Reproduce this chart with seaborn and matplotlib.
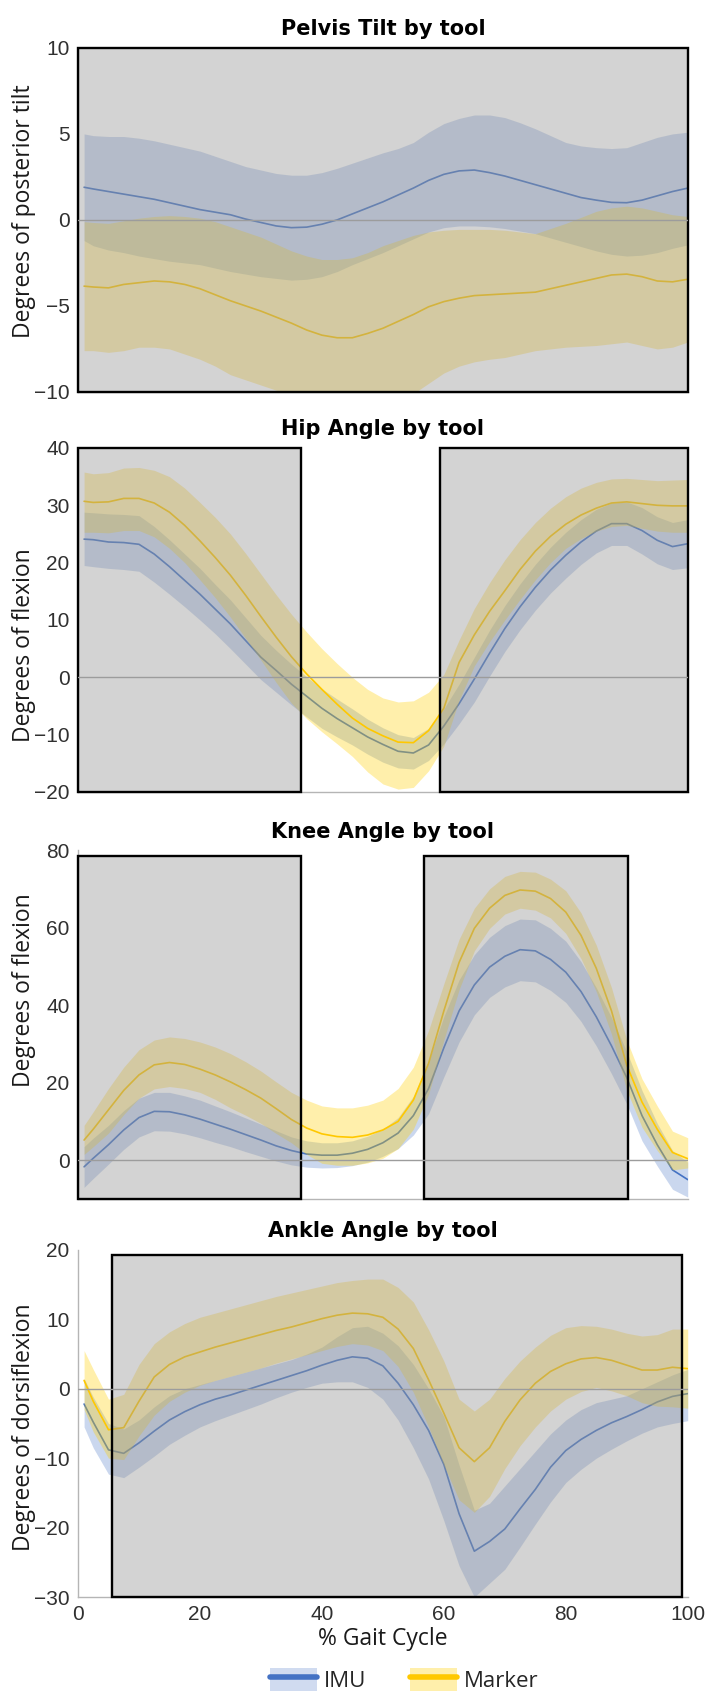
import numpy as np
import pandas as pd
import matplotlib
matplotlib.use("Agg")
import matplotlib.pyplot as plt
import seaborn as sns
from matplotlib.patches import Rectangle, Patch
from matplotlib.lines import Line2D

# ---------------- data (every 2.5 % of the gait cycle) ----------------
x_pct = [1, 2.5, 5, 7.5, 10, 12.5, 15, 17.5, 20, 22.5, 25, 27.5, 30, 32.5, 35, 37.5, 40,
         42.5, 45, 47.5, 50, 52.5, 55, 57.5, 60, 62.5, 65, 67.5, 70, 72.5, 75, 77.5, 80,
         82.5, 85, 87.5, 90, 92.5, 95, 97.5, 100]
x_ticks = [0, 20, 40, 60, 80, 100]
tools = ["IMU", "Marker"]

# Pelvis tilt
pelvis_imu_mean = [1.9, 1.8, 1.65, 1.5, 1.35, 1.2, 1.0, 0.8, 0.6, 0.45, 0.3, 0.05, -0.15, -0.35, -0.45, -0.42,
                   -0.25, 0.0, 0.35, 0.7, 1.05, 1.45, 1.85, 2.3, 2.65, 2.85, 2.9, 2.75, 2.55, 2.3, 2.05,
                   1.8, 1.55, 1.3, 1.15, 1.02, 1.0, 1.15, 1.4, 1.65, 1.85]
pelvis_imu_hi = [5.0, 4.9, 4.85, 4.85, 4.75, 4.6, 4.4, 4.2, 4.0, 3.7, 3.4, 3.1, 2.9, 2.7, 2.6, 2.6, 2.75,
                 3.0, 3.3, 3.6, 3.9, 4.15, 4.5, 5.1, 5.6, 5.9, 6.1, 6.1, 5.95, 5.65, 5.3, 4.9, 4.5,
                 4.3, 4.2, 4.15, 4.2, 4.5, 4.8, 5.0, 5.1]
pelvis_imu_lo = [-1.2, -1.5, -1.75, -1.9, -2.1, -2.25, -2.4, -2.5, -2.6, -2.8, -3.0, -3.15, -3.3, -3.4, -3.5,
                 -3.45, -3.3, -3.0, -2.6, -2.25, -1.9, -1.5, -1.1, -0.7, -0.45, -0.35, -0.35, -0.4, -0.5,
                 -0.65, -0.8, -1.05, -1.3, -1.55, -1.8, -2.0, -2.1, -2.05, -1.9, -1.65, -1.45]
pelvis_mk_mean = [-3.85, -3.9, -3.95, -3.75, -3.65, -3.55, -3.6, -3.75, -4.0, -4.35, -4.7, -5.0, -5.3, -5.65,
                  -6.0, -6.4, -6.7, -6.85, -6.85, -6.6, -6.3, -5.9, -5.5, -5.05, -4.75, -4.55, -4.4, -4.35,
                  -4.3, -4.25, -4.2, -4.0, -3.8, -3.6, -3.4, -3.2, -3.15, -3.3, -3.55, -3.6, -3.45]
pelvis_mk_hi = [-0.1, -0.15, -0.2, -0.05, 0.1, 0.2, 0.25, 0.2, 0.1, -0.1, -0.4, -0.7, -1.0, -1.4, -1.8, -2.1,
                -2.3, -2.3, -2.2, -1.9, -1.5, -1.2, -0.9, -0.7, -0.6, -0.55, -0.55, -0.55, -0.6, -0.7, -0.8,
                -0.5, -0.2, 0.15, 0.5, 0.7, 0.8, 0.7, 0.5, 0.3, 0.2]
pelvis_mk_lo = [-7.6, -7.6, -7.7, -7.6, -7.4, -7.4, -7.5, -7.8, -8.1, -8.5, -9.0, -9.3, -9.6, -9.9, -10.2,
                -10.6, -11.1, -11.4, -11.5, -11.4, -11.1, -10.6, -10.1, -9.5, -8.9, -8.5, -8.25, -8.1, -8.0,
                -7.8, -7.6, -7.5, -7.4, -7.35, -7.3, -7.2, -7.1, -7.3, -7.5, -7.4, -7.1]

# Hip angle
hip_imu_mean = [24.1, 24.0, 23.6, 23.5, 23.2, 21.5, 19.3, 16.9, 14.5, 11.9, 9.3, 6.4, 3.5, 1.2, -1.2, -3.3,
                -5.4, -7.2, -8.8, -10.4, -11.7, -12.9, -13.2, -11.8, -8.5, -4.6, -0.3, 4.2, 8.5, 12.3, 15.7,
                18.7, 21.3, 23.6, 25.5, 26.8, 26.8, 25.6, 23.9, 22.8, 23.3]
hip_imu_hi = [28.8, 28.7, 28.5, 28.4, 28.2, 26.3, 24.0, 21.5, 19.0, 16.2, 13.5, 10.4, 7.3, 4.7, 2.3, 0.1,
              -2.0, -3.8, -5.5, -7.3, -8.8, -10.0, -10.5, -8.9, -5.5, -1.2, 3.5, 8.2, 12.5, 16.3, 19.7,
              22.7, 25.3, 27.5, 29.3, 30.4, 30.6, 29.6, 28.0, 27.0, 27.5]
hip_imu_lo = [19.5, 19.3, 19.0, 18.8, 18.5, 16.6, 14.5, 12.3, 10.0, 7.6, 5.0, 2.3, -0.4, -2.6, -4.8, -6.9,
              -8.9, -10.4, -11.8, -13.4, -14.8, -15.8, -16.0, -14.5, -11.6, -8.1, -4.3, 0.2, 4.5, 8.3, 11.7,
              14.7, 17.3, 19.7, 21.7, 23.0, 23.0, 21.5, 19.8, 18.8, 19.1]
hip_mk_mean = [30.7, 30.5, 30.6, 31.2, 31.2, 30.4, 28.8, 26.5, 23.8, 20.9, 17.8, 14.3, 10.6, 7.0, 3.6, 0.6,
               -2.1, -4.7, -7.1, -8.9, -10.2, -11.3, -11.4, -9.3, -5.4, 2.6, 7.4, 11.5, 15.1, 18.8, 22.0,
               24.6, 26.7, 28.3, 29.5, 30.4, 30.6, 30.3, 30.0, 29.9, 29.9]
hip_mk_hi = [35.8, 35.5, 35.7, 36.5, 36.6, 36.1, 35.0, 33.0, 30.5, 27.9, 25.0, 21.6, 18.0, 14.4, 11.0, 7.9,
             5.0, 2.4, 0.0, -2.1, -3.6, -4.3, -4.1, -2.6, 0.5, 6.5, 12.0, 16.5, 20.5, 24.0, 27.0, 29.5,
             31.5, 33.0, 34.0, 34.6, 34.7, 34.5, 34.3, 34.4, 34.5]
hip_mk_lo = [25.3, 25.3, 25.2, 25.6, 25.6, 24.5, 22.5, 20.0, 17.0, 13.9, 10.5, 6.8, 3.0, -0.9, -4.5, -7.2,
             -9.5, -11.6, -13.8, -16.5, -18.6, -19.5, -19.2, -16.3, -12.0, -4.0, 2.0, 6.2, 10.0, 13.6, 17.0,
             20.0, 22.5, 24.2, 25.5, 26.3, 26.5, 26.0, 25.5, 25.3, 25.3]

# Knee angle
knee_imu_mean = [-1.7, 0.5, 4.0, 7.8, 11.0, 12.6, 12.5, 11.7, 10.6, 9.3, 8.0, 6.6, 5.2, 3.7, 2.5, 1.6, 1.3,
                 1.3, 1.8, 2.8, 4.5, 7.0, 11.5, 18.5, 29.0, 38.5, 45.2, 49.8, 52.6, 54.3, 54.0, 51.8, 48.5,
                 43.5, 37.0, 29.5, 21.3, 11.5, 4.0, -2.5, -5.0]
knee_imu_hi = [3.5, 5.7, 9.0, 12.8, 16.0, 17.5, 17.5, 16.6, 15.5, 14.0, 12.5, 10.9, 9.3, 7.6, 6.0, 5.0, 4.5,
               4.5, 5.0, 6.2, 8.0, 11.0, 16.5, 25.5, 37.0, 46.5, 53.0, 57.5, 60.5, 62.2, 62.0, 59.8, 56.5,
               51.2, 44.5, 36.8, 28.0, 18.0, 9.5, 2.5, -0.5]
knee_imu_lo = [-7.0, -4.7, -1.0, 2.8, 6.0, 7.6, 7.5, 6.8, 5.8, 4.6, 3.5, 2.2, 1.0, -0.2, -1.2, -1.8, -2.0,
               -1.9, -1.4, -0.5, 1.0, 3.0, 6.5, 12.0, 21.5, 30.5, 37.5, 42.0, 44.7, 46.3, 46.0, 43.8, 40.7,
               35.8, 29.5, 22.3, 14.5, 5.0, -1.5, -7.5, -9.5]
knee_mk_mean = [5.2, 8.0, 13.0, 18.0, 22.0, 24.6, 25.2, 24.7, 23.5, 22.0, 20.2, 18.2, 16.0, 13.3, 10.5, 8.3,
                6.8, 6.1, 5.9, 6.5, 7.8, 10.0, 15.5, 25.0, 38.5, 51.0, 59.8, 65.0, 68.3, 69.7, 69.4, 67.5,
                64.0, 58.0, 49.5, 38.5, 24.5, 15.0, 8.0, 2.0, 0.4]
knee_mk_hi = [9.0, 12.5, 18.5, 24.0, 28.5, 31.0, 31.8, 31.4, 30.5, 29.2, 27.5, 25.4, 23.0, 20.2, 17.5, 15.5,
              14.0, 13.5, 13.5, 14.2, 15.5, 18.5, 24.0, 33.5, 45.5, 57.0, 65.0, 70.0, 73.2, 74.5, 74.3, 72.5,
              69.5, 63.8, 55.5, 44.5, 31.0, 21.0, 14.0, 7.5, 5.8]
knee_mk_lo = [1.5, 3.5, 7.0, 11.8, 16.0, 18.4, 19.0, 18.5, 17.5, 15.7, 13.5, 11.6, 9.5, 6.9, 4.5, 1.5, -0.8,
              -1.3, -1.3, -0.7, 0.5, 3.0, 8.0, 17.0, 31.0, 44.0, 54.0, 59.8, 63.5, 65.0, 64.5, 62.5, 58.5,
              52.0, 43.5, 32.5, 18.0, 8.5, 2.5, -2.5, -2.0]

# Ankle angle
ankle_imu_mean = [-2.2, -4.8, -8.8, -9.3, -7.8, -6.1, -4.5, -3.3, -2.3, -1.5, -0.9, -0.2, 0.5, 1.2, 1.9, 2.6,
                  3.4, 4.1, 4.6, 4.4, 3.3, 0.8, -2.3, -6.0, -10.9, -18.0, -23.4, -22.0, -20.2, -17.3, -14.5,
                  -11.3, -8.9, -7.3, -6.0, -4.9, -4.0, -3.0, -1.9, -1.1, -0.7]
ankle_imu_hi = [1.5, -1.2, -5.0, -5.8, -4.5, -2.6, -1.0, 0.0, 0.6, 1.2, 1.8, 2.4, 3.0, 3.6, 4.2, 5.0, 6.0,
                7.5, 8.8, 9.0, 8.0, 6.2, 3.5, 0.0, -4.0, -11.0, -17.5, -16.5, -14.0, -11.5, -9.0, -6.5, -4.5,
                -3.0, -2.0, -1.5, -1.0, 0.0, 1.0, 2.0, 2.8]
ankle_imu_lo = [-5.5, -8.5, -12.3, -12.8, -11.3, -9.7, -8.0, -6.7, -5.5, -4.6, -3.8, -3.0, -2.2, -1.3, -0.5,
                0.2, 0.8, 1.0, 1.0, 0.2, -1.5, -4.5, -8.5, -13.0, -19.0, -25.5, -30.0, -28.0, -26.0, -22.8,
                -19.5, -16.3, -13.5, -11.6, -10.0, -8.7, -7.5, -6.4, -5.5, -5.0, -4.6]
ankle_mk_mean = [1.2, -1.8, -5.9, -5.6, -1.8, 1.7, 3.5, 4.6, 5.3, 6.0, 6.6, 7.2, 7.8, 8.4, 8.9, 9.5, 10.1,
                 10.6, 10.9, 10.8, 10.3, 8.6, 5.8, 1.3, -3.5, -8.5, -10.5, -8.5, -4.7, -1.6, 0.8, 2.5, 3.6,
                 4.3, 4.5, 4.1, 3.4, 2.7, 2.7, 3.1, 2.9]
ankle_mk_hi = [5.5, 2.8, -1.5, -0.8, 3.5, 6.5, 8.2, 9.4, 10.3, 10.9, 11.5, 12.1, 12.7, 13.3, 13.8, 14.3, 14.8,
               15.3, 15.6, 15.8, 15.8, 14.6, 12.5, 8.5, 4.0, -1.5, -3.2, -1.5, 1.5, 4.0, 6.0, 7.7, 8.8, 9.1,
               9.0, 8.6, 8.0, 7.6, 7.8, 8.6, 8.6]
ankle_mk_lo = [-3.0, -6.2, -10.0, -10.2, -6.8, -3.8, -1.8, -0.5, 0.5, 1.2, 1.8, 2.4, 3.0, 3.7, 4.3, 4.9, 5.5,
               6.1, 6.5, 6.3, 5.5, 3.2, -0.5, -5.5, -11.0, -16.0, -17.8, -15.5, -11.5, -8.2, -5.5, -3.2,
               -1.5, -0.4, 0.2, -0.3, -1.0, -2.0, -2.5, -2.6, -2.8]

# shaded significance regions (x start, x end, y bottom, y top)
pelvis_regions = [(0, 100, -10, 10)]
hip_regions = [(0, 36.5, -20, 40), (59.3, 100, -20, 40)]
knee_regions = [(0, 36.5, -10, 78.5), (56.8, 90.2, -10, 78.5)]
ankle_regions = [(5.5, 99, -30, 19.2)]

titles = ["Pelvis Tilt by tool", "Hip Angle by tool", "Knee Angle by tool", "Ankle Angle by tool"]
ylabels = ["Degrees of posterior tilt", "Degrees of flexion", "Degrees of flexion", "Degrees of dorsiflexion"]
ylims = [(-10, 10), (-20, 40), (-10, 80), (-30, 20)]
yticks = [[-10, -5, 0, 5, 10], [-20, -10, 0, 10, 20, 30, 40], [0, 20, 40, 60, 80], [-30, -20, -10, 0, 10, 20]]

# ---------------- style ----------------
sns.set_theme(style="white")
plt.rcParams["font.family"] = ["Liberation Sans", "DejaVu Sans"]

IMU_COL = "#4472C4"
MK_LINE = "#FFC800"
MK_BAND = "#FFD000"
RECT_FACE = (0.588, 0.588, 0.588, 0.42)

panels = [
    (pelvis_imu_mean, pelvis_imu_hi, pelvis_imu_lo, pelvis_mk_mean, pelvis_mk_hi, pelvis_mk_lo, pelvis_regions),
    (hip_imu_mean, hip_imu_hi, hip_imu_lo, hip_mk_mean, hip_mk_hi, hip_mk_lo, hip_regions),
    (knee_imu_mean, knee_imu_hi, knee_imu_lo, knee_mk_mean, knee_mk_hi, knee_mk_lo, knee_regions),
    (ankle_imu_mean, ankle_imu_hi, ankle_imu_lo, ankle_mk_mean, ankle_mk_hi, ankle_mk_lo, ankle_regions),
]

positions = [
    [0.110, 0.7685, 0.860, 0.2032],
    [0.110, 0.5322, 0.860, 0.2032],
    [0.110, 0.2918, 0.860, 0.2061],
    [0.110, 0.0567, 0.860, 0.2050],
]
label_y = [0.526, 0.427, 0.60, 0.49]

fig = plt.figure(figsize=(7.09, 16.93), dpi=100)

for i, (imu_m, imu_h, imu_l, mk_m, mk_h, mk_l, regions) in enumerate(panels):
    ax = fig.add_axes(positions[i])
    ax.set_facecolor("white")

    df = pd.DataFrame({
        "pct": x_pct * 2,
        "mean": list(imu_m) + list(mk_m),
        "tool": ["IMU"] * len(x_pct) + ["Marker"] * len(x_pct),
    })

    ax.fill_between(x_pct, imu_l, imu_h, color=IMU_COL, alpha=0.28, linewidth=0, zorder=2)
    sns.lineplot(data=df[df.tool == "IMU"], x="pct", y="mean", color=IMU_COL,
                 linewidth=1.2, ax=ax, legend=False, estimator=None, zorder=3)
    ax.fill_between(x_pct, mk_l, mk_h, color=MK_BAND, alpha=0.33, linewidth=0, zorder=4)
    sns.lineplot(data=df[df.tool == "Marker"], x="pct", y="mean", color=MK_LINE,
                 linewidth=1.2, ax=ax, legend=False, estimator=None, zorder=5)

    for (x0, x1, y0, y1) in regions:
        ax.add_patch(Rectangle((x0, y0), x1 - x0, y1 - y0, facecolor=RECT_FACE,
                               edgecolor="black", linewidth=1.7, zorder=6, clip_on=False))

    ax.axhline(0, color="#9c9c9c", linewidth=1.0, zorder=7)

    ax.set_xlim(0, 100)
    ax.set_ylim(*ylims[i])
    ax.set_yticks(yticks[i])
    ax.set_xticks(x_ticks)
    for s in ["top", "right"]:
        ax.spines[s].set_visible(False)
    for s in ["left", "bottom"]:
        ax.spines[s].set_color("#b5b5b5")
        ax.spines[s].set_linewidth(1.0)
    ax.tick_params(direction="in", length=4, width=0.8, color="#a8a8a8",
                   labelsize=15, labelcolor="#303030", pad=6)

    ax.set_title(titles[i], fontsize=15, fontweight="bold", family="DejaVu Sans",
                 color="black", pad=9)
    ax.set_ylabel(ylabels[i], fontsize=16.5, family=["Open Sans", "DejaVu Sans"],
                  color="#1a1a1a", va="center")
    ax.yaxis.set_label_coords(-0.0885, label_y[i])

    if i < 3:
        ax.set_xticklabels([])
        ax.set_xlabel("")
    else:
        ax.set_xlabel("% Gait Cycle", fontsize=16.5, family=["Open Sans", "DejaVu Sans"],
                      color="#1a1a1a", labelpad=2)

handles = [
    (Patch(facecolor=IMU_COL, alpha=0.25, edgecolor="none"), Line2D([], [], color=IMU_COL, linewidth=4)),
    (Patch(facecolor=MK_BAND, alpha=0.33, edgecolor="none"), Line2D([], [], color=MK_LINE, linewidth=4)),
]
fig.legend(handles, tools, loc="center", bbox_to_anchor=(0.57, 0.0077), ncol=2, frameon=False,
           prop={"family": ["Open Sans", "DejaVu Sans"], "size": 16},
           handlelength=2.1, handleheight=1.25, handletextpad=0.3, columnspacing=2.0,
           borderpad=0, borderaxespad=0)

fig.savefig("out.png", dpi=100)
